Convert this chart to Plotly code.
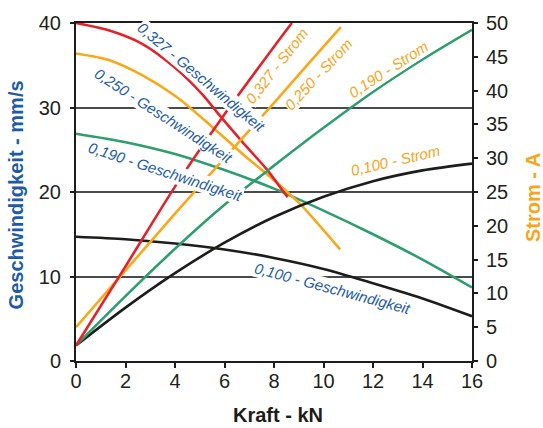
import plotly.graph_objects as go

# ---------------- data ----------------
# Geschwindigkeit (mm/s, left axis)
v327_x = [0, 1.35, 2.69, 4.04, 5.12, 5.82, 6.7, 7.7, 8.44, 8.55]
v327_y = [40, 39.1, 37.5, 34.6, 31.5, 29.0, 26.0, 22.7, 19.8, 19.4]
v250_x = [0, 1.35, 2.69, 4.04, 5.39, 6.73, 8.0, 9.05, 10.67]
v250_y = [36.4, 35.6, 33.8, 31.3, 28.0, 24.5, 21.4, 18.6, 13.2]
v190_x = [0, 2, 4, 6, 8, 10, 12, 14, 16]
v190_y = [26.9, 25.9, 24.5, 22.6, 20.4, 17.8, 15.0, 12.0, 8.7]
v100_x = [0, 2, 4, 6, 8, 10, 12, 14, 16]
v100_y = [14.7, 14.4, 13.9, 13.2, 12.2, 10.9, 9.2, 7.4, 5.3]

# Strom (A, right axis)
i327_x = [0, 2, 4, 6, 8, 8.72]
i327_y = [2.3, 14.0, 25.8, 36.5, 46.5, 50.0]
i250_x = [0, 2, 4, 6, 8, 10, 10.7]
i250_y = [5.0, 13.4, 21.8, 30.0, 38.2, 46.5, 49.4]
i190_x = [0, 2, 4, 6, 8, 10, 12, 14, 16]
i190_y = [2.3, 9.6, 16.6, 23.1, 28.9, 34.5, 39.8, 44.6, 49.0]
i100_x = [0, 2, 4, 6, 8, 10, 12, 14, 16]
i100_y = [2.3, 7.9, 13.0, 17.5, 21.3, 24.3, 26.6, 28.2, 29.2]

x_ticks = [0, 2, 4, 6, 8, 10, 12, 14, 16]
y_ticks = [0, 10, 20, 30, 40]
y2_ticks = [0, 5, 10, 15, 20, 25, 30, 35, 40, 45, 50]

x_title = "Kraft - kN"
y_title = "Geschwindigkeit - mm/s"
y2_title = "Strom - A"

# labels: text, x, y, angle, kind
labels = [
    ("0,327 - Geschwindigkeit", 5.09, 33.57, 40, "v"),
    ("0,250 - Geschwindigkeit", 3.52, 29.0, 33, "v"),
    ("0,190 - Geschwindigkeit", 3.60, 22.4, 18, "v"),
    ("0,100 - Geschwindigkeit", 10.38, 8.55, 15, "v"),
    ("0,327 - Strom", 8.12, 34.97, -52, "i"),
    ("0,250 - Strom", 9.78, 33.92, -47, "i"),
    ("0,190 - Strom", 12.61, 34.5, -33, "i"),
    ("0,100 - Strom", 12.89, 23.7, -13, "i"),
]

# ---------------- styles ----------------
RED = "#e3232b"
ORANGE = "#f8a818"
GREEN = "#2f9e6e"
BLACK = "#1d1d1b"
BLUE = "#1d5ba8"
TXT_OR = "#f7a51c"
FONT = "Arial, Liberation Sans, sans-serif"
LW = 2.6

fig = go.Figure()

def add(x, y, color, axis):
    fig.add_trace(go.Scatter(x=x, y=y, mode="lines", yaxis=axis,
                             line=dict(color=color, width=LW, shape="spline", smoothing=0.8),
                             hoverinfo="skip", showlegend=False))

add(v100_x, v100_y, BLACK, "y")
add(v190_x, v190_y, GREEN, "y")
add(v250_x, v250_y, ORANGE, "y")
add(v327_x, v327_y, RED, "y")
add(i100_x, i100_y, BLACK, "y2")
add(i190_x, i190_y, GREEN, "y2")
add(i250_x, i250_y, ORANGE, "y2")
add(i327_x, i327_y, RED, "y2")

annotations = []
for text, ax, ay, ang, kind in labels:
    annotations.append(dict(
        text=text, x=ax, y=ay, xref="x", yref="y", showarrow=False,
        xanchor="center", yanchor="middle",
        textangle=ang, bgcolor="white", borderpad=0,
        font=dict(family=FONT, size=15, color=BLUE if kind == "v" else TXT_OR, style="italic"),
    ))

annotations += [
    dict(text="<b>%s</b>" % y_title, xref="paper", yref="paper", x=-0.1515, y=0.49,
         xanchor="center", yanchor="middle",
         textangle=-90, showarrow=False, font=dict(family=FONT, size=20, color=BLUE)),
    dict(text="<b>%s</b>" % y2_title, xref="paper", yref="paper", x=1.154, y=0.485,
         xanchor="center", yanchor="middle",
         textangle=-90, showarrow=False, font=dict(family=FONT, size=20, color=TXT_OR)),
    dict(text="<b>%s</b>" % x_title, xref="paper", yref="paper", x=0.509, y=-0.16,
         xanchor="center", yanchor="middle",
         showarrow=False, font=dict(family=FONT, size=20, color=BLACK)),
]

tickfont = dict(family=FONT, size=20, color="#231f20")

fig.update_layout(
    width=543, height=428, autosize=False,
    margin=dict(l=76, r=71, t=19, b=67),
    paper_bgcolor="white", plot_bgcolor="white",
    annotations=annotations,
    xaxis=dict(range=[0, 16], tickvals=x_ticks, ticks="outside", ticklen=5, tickwidth=1.5,
               tickcolor=BLACK, showline=True, linecolor=BLACK, linewidth=2, mirror=True,
               showgrid=False, zeroline=False, tickfont=tickfont, ticklabelstandoff=-4),
    yaxis=dict(range=[0, 40], tickvals=y_ticks, ticks="outside", ticklen=4, tickwidth=1.5,
               tickcolor=BLACK, showline=True, linecolor=BLACK, linewidth=2,
               showgrid=True, gridcolor="#4a4a4a", gridwidth=1.5, zeroline=False,
               tickfont=tickfont, ticklabelstandoff=5),
    yaxis2=dict(range=[0, 50], tickvals=y2_ticks, overlaying="y", side="right",
                ticks="outside", ticklen=4, tickwidth=1.5, tickcolor=BLACK,
                showline=True, linecolor=BLACK, linewidth=2, showgrid=False, zeroline=False,
                tickfont=tickfont, ticklabelstandoff=4),
    yaxis3=dict(range=[0, 50], tickvals=y2_ticks, overlaying="y", side="right",
                ticks="inside", ticklen=5, tickwidth=1.5, tickcolor=BLACK,
                showticklabels=False, showline=False, showgrid=False, zeroline=False),
)

fig.write_html("out.html")
